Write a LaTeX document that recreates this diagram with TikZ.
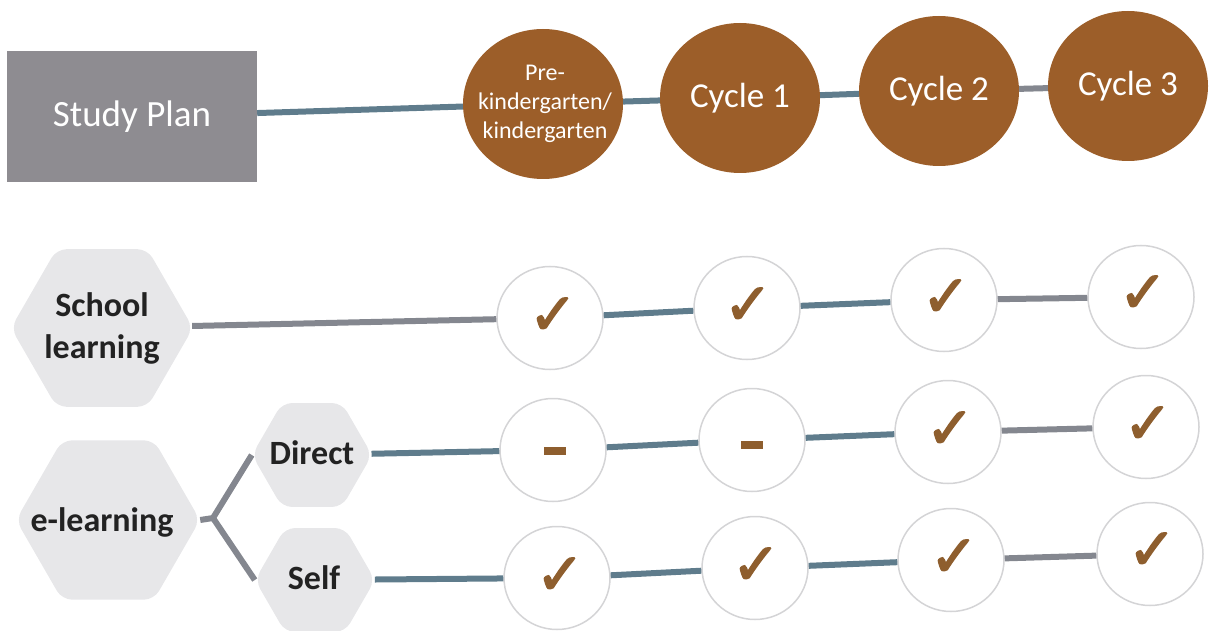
\documentclass[tikz,border=0pt]{standalone}
\usepackage{fontspec}
\setmainfont{Carlito}
\newfontfamily\symfont[FakeBold=2.5]{DejaVu Sans}
\usetikzlibrary{shapes.geometric}
\definecolor{plangray}{HTML}{8E8C91}
\definecolor{cyclebrown}{HTML}{9C5E29}
\definecolor{hexgray}{HTML}{E7E7E9}
\definecolor{ringgray}{HTML}{D4D4D6}
\definecolor{tickbrown}{HTML}{8E5E2E}
\definecolor{blueline}{HTML}{5F7C8C}
\definecolor{grayline}{HTML}{84878F}
\definecolor{labeltext}{HTML}{222222}
\tikzset{
  planbox/.style={rectangle, fill=plangray, minimum width=250pt, minimum height=131pt, text=white, font=\fontsize{37}{42}\selectfont},
  cyclenode/.style={ellipse, fill=cyclebrown, minimum width=160pt, minimum height=150pt, inner sep=0pt},
  cycletext/.style={text=white, align=center, inner sep=0pt},
  hexnode/.style={regular polygon, regular polygon sides=6, fill=hexgray, rounded corners=10pt, inner sep=0pt},
  hextext/.style={text=labeltext, align=center, font=\bfseries\fontsize{34}{42}\selectfont},
  ring/.style={ellipse, draw=ringgray, line width=1.5pt, fill=white, minimum width=106pt, minimum height=103pt, inner sep=0pt},
  tick/.style={text=tickbrown, font=\symfont\fontsize{58}{58}\selectfont},
  dashmark/.style={rectangle, fill=tickbrown, minimum width=22pt, minimum height=8pt, inner sep=0pt},
  bline/.style={draw=blueline, line width=6pt},
  gline/.style={draw=grayline, line width=6pt},
}
\begin{document}
\begin{tikzpicture}[x=1pt,y=-1pt]
\useasboundingbox (0,0) rectangle (1210,631);
% top row
\node[planbox] (plan) at (132,117) {Study Plan};
\node[cyclenode] (pk) at (543,104) {};
\node[cycletext, font=\fontsize{24}{29}\selectfont] (pktxt) at (545,104) {Pre-\\kindergarten/\\kindergarten};
\node[cyclenode] (c1) at (740,98) {};
\node[cycletext, font=\fontsize{35}{40}\selectfont] (c1txt) at (c1) {Cycle 1};
\node[cyclenode] (c2) at (939,91) {};
\node[cycletext, font=\fontsize{35}{40}\selectfont] (c2txt) at (c2) {Cycle 2};
\node[cyclenode] (c3) at (1128,86) {};
\node[cycletext, font=\fontsize{35}{40}\selectfont] (c3txt) at (c3) {Cycle 3};
% left hexagons
\node[hexnode, minimum size=182pt] (school) at (102,328) {};
\node[hextext] (schooltxt) at (school) {School\\learning};
\node[hexnode, minimum size=184pt] (elearn) at (108,520) {};
\node[hextext] (elearntxt) at (102,522) {e-learning};
\node[hexnode, minimum size=120pt] (direct) at (312,455) {};
\node[hextext] (directtxt) at (312,453) {Direct};
\node[hexnode, minimum size=120pt] (self) at (315,580) {};
\node[hextext] (selftxt) at (314,578) {Self};
% rings
\node[ring] (r11) at (550,318) {};
\node[ring] (r12) at (747,308) {};
\node[ring] (r13) at (944,300) {};
\node[ring] (r14) at (1141,297) {};
\node[ring] (r21) at (553,450) {};
\node[ring] (r22) at (752,440) {};
\node[ring] (r23) at (948,432) {};
\node[ring] (r24) at (1146,427) {};
\node[ring] (r31) at (557,578) {};
\node[ring] (r32) at (755,568) {};
\node[ring] (r33) at (951,560) {};
\node[ring] (r34) at (1150,554) {};
% marks
\node[tick] (t11) at (553,316) {✓};
\node[tick] (t12) at (748,306) {✓};
\node[tick] (t13) at (946,298) {✓};
\node[tick] (t14) at (1143,294) {✓};
\node[dashmark] (d21) at (555,451) {};
\node[dashmark] (d22) at (752,445) {};
\node[tick] (t23) at (950,430) {✓};
\node[tick] (t24) at (1148,425) {✓};
\node[tick] (t31) at (560,576) {✓};
\node[tick] (t32) at (756,566) {✓};
\node[tick] (t33) at (954,558) {✓};
\node[tick] (t34) at (1152,551) {✓};
% connectors
\draw[bline] (plan) -- (pk);
\draw[bline] (pk) -- (c1);
\draw[bline] (c1) -- (c2);
\draw[gline] (c2) -- (c3);
\draw[gline] (school) -- (r11);
\draw[bline] (r11) -- (r12);
\draw[bline] (r12) -- (r13);
\draw[gline] (r13) -- (r14);
\draw[bline] (direct) -- (r21);
\draw[bline] (r21) -- (r22);
\draw[bline] (r22) -- (r23);
\draw[gline] (r23) -- (r24);
\draw[bline] (self) -- (r31);
\draw[bline] (r31) -- (r32);
\draw[bline] (r32) -- (r33);
\draw[gline] (r33) -- (r34);
\coordinate (br) at (213,518);
\draw[gline, line join=round] (elearn.east) -- (br) -- (direct.west);
\draw[gline, line join=round] (br) -- (self.west);
\end{tikzpicture}
\end{document}
